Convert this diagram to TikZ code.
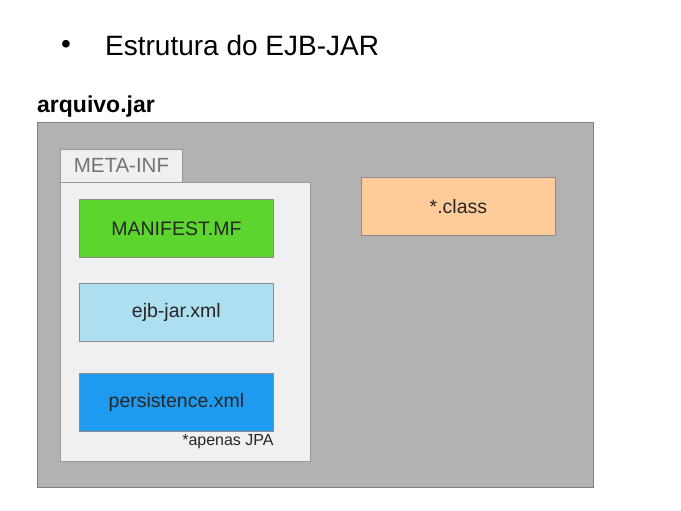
\documentclass[tikz,border=0pt]{standalone}
\usepackage{fontspec}
\setmainfont{Liberation Sans}
\begin{document}
\begin{tikzpicture}[x=1pt,y=-1pt,
  filebox/.style={draw=black!45,line width=0.8pt,minimum width=194pt,minimum height=58pt,inner sep=0pt,font=\fontsize{19.5}{21}\selectfont,text=black!85},
]
\useasboundingbox (0,0) rectangle (681,511);
\node[font=\fontsize{28}{30}\selectfont] (bul) at (66,47) {•};
\node[anchor=west,font=\fontsize{28}{30}\selectfont,inner sep=0pt] (title) at (105,45) {Estrutura do EJB-JAR};
\node[anchor=south west,inner sep=0pt,font=\bfseries\fontsize{23}{25}\selectfont] (arq) at (37,117) {arquivo.jar};
\node[draw=black!50,fill=black!30,line width=0.8pt,anchor=north west,minimum width=556pt,minimum height=365pt,inner sep=0pt] (jar) at (37,122) {};
\node[draw=black!40,fill=black!6,line width=0.8pt,anchor=north west,minimum width=250pt,minimum height=279pt,inner sep=0pt] (meta) at (60,182) {};
\node[draw=black!40,fill=black!6,line width=0.8pt,anchor=north west,minimum width=122pt,minimum height=33pt,inner sep=0pt,font=\fontsize{20.5}{22}\selectfont,text=black!55] (tab) at (60,149) {META-INF};
\node[filebox,fill={rgb,255:red,92;green,214;blue,46},anchor=north west] (mf) at (79,199) {MANIFEST.MF};
\node[filebox,fill={rgb,255:red,173;green,223;blue,240},anchor=north west] (ejb) at (79,283) {ejb-jar.xml};
\node[filebox,fill={rgb,255:red,30;green,155;blue,239},anchor=north west] (pers) at (79,373) {persistence.xml};
\node[anchor=north east,inner sep=0pt,font=\fontsize{16}{18}\selectfont,text=black!85] (jpa) at (pers.south east) [yshift=-2pt] {*apenas JPA};
\node[filebox,fill={rgb,255:red,255;green,204;blue,153},anchor=north west] (cls) at (361,177) {*.class};
\end{tikzpicture}
\end{document}
